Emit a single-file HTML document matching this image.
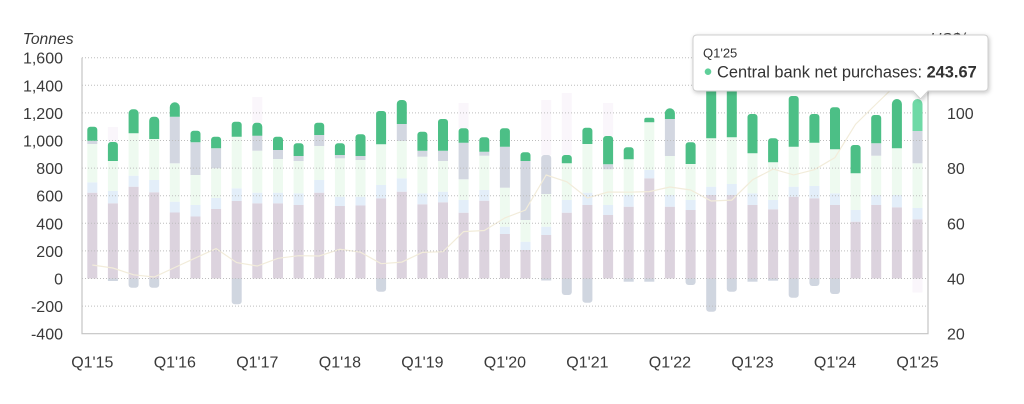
<!DOCTYPE html>
<html><head><meta charset="utf-8"><style>
html,body{margin:0;padding:0;background:#fff;}
svg{display:block;font-family:"Liberation Sans",Arial,sans-serif;}
.j{fill:#dcd3de}.t{fill:#e3eef9}.b{fill:#eefaf0}.e{fill:#d3d7e1}.c{fill:#4cbf86}.n{fill:#d0d6e0}.o{fill:#faf6fb}
.lab{font-size:16px;fill:#3a3a3a}
</style></head><body>
<svg width="1024" height="404" viewBox="0 0 1024 404" xmlns="http://www.w3.org/2000/svg">
<defs><filter id="sh" x="-10%" y="-20%" width="130%" height="160%"><feDropShadow dx="1" dy="1.5" stdDeviation="2" flood-color="#000" flood-opacity="0.22"/></filter></defs>
<rect width="1024" height="404" fill="#fff"/>
<!-- faint OTC -->
<rect class="o" x="107.9" y="127" width="10" height="15"/>
<rect class="o" x="252.3" y="97" width="10" height="25.7"/>
<rect class="o" x="458.6" y="103" width="10" height="25.3"/>
<rect class="o" x="541.2" y="100" width="10" height="55"/>
<rect class="o" x="561.8" y="93" width="10" height="62"/>
<rect class="o" x="603.1" y="103" width="10" height="33"/>
<!-- faded stacks -->
<g transform="translate(87.3,0)"><rect class="j" y="192.7" width="10" height="85.8"/><rect class="t" y="182.3" width="10" height="10.4"/><rect class="b" y="144" width="10" height="38.3"/><rect class="e" y="140.7" width="10" height="3.3"/></g>
<g transform="translate(107.9,0)"><rect class="j" y="203.3" width="10" height="75.2"/><rect class="t" y="191" width="10" height="12.3"/><rect class="b" y="161" width="10" height="30"/><rect class="n" y="278.5" width="10" height="2.5"/></g>
<g transform="translate(128.6,0)"><rect class="j" y="186.7" width="10" height="91.8"/><rect class="t" y="175.7" width="10" height="11"/><rect class="b" y="133.3" width="10" height="42.4"/><path class="n" d="M0 278.5V284.7a3 3 0 0 0 3 3h4a3 3 0 0 0 3-3V278.5z"/></g>
<g transform="translate(149.2,0)"><rect class="j" y="192.3" width="10" height="86.2"/><rect class="t" y="180" width="10" height="12.3"/><rect class="b" y="139" width="10" height="41"/><path class="n" d="M0 278.5V284.7a3 3 0 0 0 3 3h4a3 3 0 0 0 3-3V278.5z"/></g>
<g transform="translate(169.8,0)"><rect class="j" y="212.5" width="10" height="66"/><rect class="t" y="201.7" width="10" height="10.8"/><rect class="b" y="163.3" width="10" height="38.4"/><rect class="e" y="116.7" width="10" height="46.6"/></g>
<g transform="translate(190.5,0)"><rect class="j" y="216.5" width="10" height="62"/><rect class="t" y="205" width="10" height="11.5"/><rect class="b" y="175" width="10" height="30"/><rect class="e" y="142.3" width="10" height="32.7"/></g>
<g transform="translate(211.1,0)"><rect class="j" y="209" width="10" height="69.5"/><rect class="t" y="198" width="10" height="11"/><rect class="b" y="168.3" width="10" height="29.7"/><rect class="e" y="148.3" width="10" height="20"/></g>
<g transform="translate(231.7,0)"><rect class="j" y="201" width="10" height="77.5"/><rect class="t" y="188.3" width="10" height="12.7"/><rect class="b" y="136.7" width="10" height="51.6"/><path class="n" d="M0 278.5V301.3a3 3 0 0 0 3 3h4a3 3 0 0 0 3-3V278.5z"/></g>
<g transform="translate(252.3,0)"><rect class="j" y="203.3" width="10" height="75.2"/><rect class="t" y="192.7" width="10" height="10.6"/><rect class="b" y="150.7" width="10" height="42"/><rect class="e" y="135.7" width="10" height="15"/></g>
<g transform="translate(273,0)"><rect class="j" y="203.3" width="10" height="75.2"/><rect class="t" y="192.7" width="10" height="10.6"/><rect class="b" y="159" width="10" height="33.7"/><rect class="e" y="150" width="10" height="9"/></g>
<g transform="translate(293.6,0)"><rect class="j" y="205" width="10" height="73.5"/><rect class="t" y="193.3" width="10" height="11.7"/><rect class="b" y="161" width="10" height="32.3"/><rect class="e" y="156" width="10" height="5"/></g>
<g transform="translate(314.2,0)"><rect class="j" y="192.7" width="10" height="85.8"/><rect class="t" y="180" width="10" height="12.7"/><rect class="b" y="146" width="10" height="34"/><rect class="e" y="135" width="10" height="11"/></g>
<g transform="translate(334.9,0)"><rect class="j" y="206" width="10" height="72.5"/><rect class="t" y="196.7" width="10" height="9.3"/><rect class="b" y="158.3" width="10" height="38.4"/><rect class="e" y="155" width="10" height="3.3"/></g>
<g transform="translate(355.5,0)"><rect class="j" y="205.5" width="10" height="73"/><rect class="t" y="196.7" width="10" height="8.8"/><rect class="b" y="160" width="10" height="36.7"/><rect class="e" y="156" width="10" height="4"/></g>
<g transform="translate(376.1,0)"><rect class="j" y="198.3" width="10" height="80.2"/><rect class="t" y="185" width="10" height="13.3"/><rect class="b" y="144.3" width="10" height="40.7"/><path class="n" d="M0 278.5V288.7a3 3 0 0 0 3 3h4a3 3 0 0 0 3-3V278.5z"/></g>
<g transform="translate(396.8,0)"><rect class="j" y="191.7" width="10" height="86.8"/><rect class="t" y="178.3" width="10" height="13.4"/><rect class="b" y="141" width="10" height="37.3"/><rect class="e" y="124" width="10" height="17"/></g>
<g transform="translate(417.4,0)"><rect class="j" y="204.3" width="10" height="74.2"/><rect class="t" y="193.3" width="10" height="11"/><rect class="b" y="156.7" width="10" height="36.6"/><rect class="e" y="150.7" width="10" height="6"/></g>
<g transform="translate(438,0)"><rect class="j" y="202.3" width="10" height="76.2"/><rect class="t" y="191.7" width="10" height="10.6"/><rect class="b" y="161" width="10" height="30.7"/><rect class="e" y="150.7" width="10" height="10.3"/></g>
<g transform="translate(458.6,0)"><rect class="j" y="212.7" width="10" height="65.8"/><rect class="t" y="200" width="10" height="12.7"/><rect class="b" y="179.3" width="10" height="20.7"/><rect class="e" y="142.7" width="10" height="36.6"/></g>
<g transform="translate(479.3,0)"><rect class="j" y="200.7" width="10" height="77.8"/><rect class="t" y="190" width="10" height="10.7"/><rect class="b" y="155.7" width="10" height="34.3"/><rect class="e" y="151.7" width="10" height="4"/></g>
<g transform="translate(499.9,0)"><rect class="j" y="234" width="10" height="44.5"/><rect class="t" y="226.7" width="10" height="7.3"/><rect class="b" y="187.7" width="10" height="39"/><rect class="e" y="146.7" width="10" height="41"/></g>
<g transform="translate(520.5,0)"><rect class="j" y="250" width="10" height="28.5"/><rect class="t" y="241.7" width="10" height="8.3"/><rect class="b" y="220" width="10" height="21.7"/><rect class="e" y="161" width="10" height="59"/></g>
<g transform="translate(541.2,0)"><rect class="j" y="235" width="10" height="43.5"/><rect class="t" y="226.7" width="10" height="8.3"/><rect class="b" y="194" width="10" height="32.7"/><path class="e" d="M0 194V158a3 3 0 0 1 3-3h4a3 3 0 0 1 3 3V194z"/><rect class="n" y="278.5" width="10" height="2"/></g>
<g transform="translate(561.8,0)"><rect class="j" y="212.7" width="10" height="65.8"/><rect class="t" y="200" width="10" height="12.7"/><rect class="b" y="163.3" width="10" height="36.7"/><path class="n" d="M0 278.5V292a3 3 0 0 0 3 3h4a3 3 0 0 0 3-3V278.5z"/></g>
<g transform="translate(582.4,0)"><rect class="j" y="205" width="10" height="73.5"/><rect class="t" y="192.7" width="10" height="12.3"/><rect class="b" y="144" width="10" height="48.7"/><path class="n" d="M0 278.5V299.7a3 3 0 0 0 3 3h4a3 3 0 0 0 3-3V278.5z"/></g>
<g transform="translate(603.1,0)"><rect class="j" y="215" width="10" height="63.5"/><rect class="t" y="205" width="10" height="10"/><rect class="b" y="169.3" width="10" height="35.7"/><rect class="e" y="164.3" width="10" height="5"/></g>
<g transform="translate(623.7,0)"><rect class="j" y="206.7" width="10" height="71.8"/><rect class="t" y="195" width="10" height="11.7"/><rect class="b" y="159.3" width="10" height="35.7"/><rect class="n" y="278.5" width="10" height="3.2"/></g>
<g transform="translate(644.3,0)"><rect class="j" y="178.3" width="10" height="100.2"/><rect class="t" y="170" width="10" height="8.3"/><rect class="b" y="122.3" width="10" height="47.7"/><rect class="n" y="278.5" width="10" height="3.2"/></g>
<g transform="translate(664.9,0)"><rect class="j" y="206.7" width="10" height="71.8"/><rect class="t" y="195" width="10" height="11.7"/><rect class="b" y="156" width="10" height="39"/><rect class="e" y="119" width="10" height="37"/></g>
<g transform="translate(685.6,0)"><rect class="j" y="210" width="10" height="68.5"/><rect class="t" y="200" width="10" height="10"/><rect class="b" y="164" width="10" height="36"/><path class="n" d="M0 278.5V282a3 3 0 0 0 3 3h4a3 3 0 0 0 3-3V278.5z"/></g>
<g transform="translate(706.2,0)"><rect class="j" y="195" width="10" height="83.5"/><rect class="t" y="186.7" width="10" height="8.3"/><rect class="b" y="138.3" width="10" height="48.4"/><path class="n" d="M0 278.5V308.7a3 3 0 0 0 3 3h4a3 3 0 0 0 3-3V278.5z"/></g>
<g transform="translate(726.8,0)"><rect class="j" y="195" width="10" height="83.5"/><rect class="t" y="184" width="10" height="11"/><rect class="b" y="137.3" width="10" height="46.7"/><path class="n" d="M0 278.5V288.7a3 3 0 0 0 3 3h4a3 3 0 0 0 3-3V278.5z"/></g>
<g transform="translate(747.5,0)"><rect class="j" y="205" width="10" height="73.5"/><rect class="t" y="193.3" width="10" height="11.7"/><rect class="b" y="153.3" width="10" height="40"/><rect class="n" y="278.5" width="10" height="3.2"/></g>
<g transform="translate(768.1,0)"><rect class="j" y="209.3" width="10" height="69.2"/><rect class="t" y="200" width="10" height="9.3"/><rect class="b" y="162.3" width="10" height="37.7"/><rect class="n" y="278.5" width="10" height="2.2"/></g>
<g transform="translate(788.7,0)"><rect class="j" y="196.7" width="10" height="81.8"/><rect class="t" y="186.7" width="10" height="10"/><rect class="b" y="146.7" width="10" height="40"/><path class="n" d="M0 278.5V294.7a3 3 0 0 0 3 3h4a3 3 0 0 0 3-3V278.5z"/></g>
<g transform="translate(809.4,0)"><rect class="j" y="198.3" width="10" height="80.2"/><rect class="t" y="186" width="10" height="12.3"/><rect class="b" y="142.7" width="10" height="43.3"/><path class="n" d="M0 278.5V283a3 3 0 0 0 3 3h4a3 3 0 0 0 3-3V278.5z"/></g>
<g transform="translate(830,0)"><rect class="j" y="205" width="10" height="73.5"/><rect class="t" y="193.3" width="10" height="11.7"/><rect class="b" y="149.3" width="10" height="44"/><path class="n" d="M0 278.5V291a3 3 0 0 0 3 3h4a3 3 0 0 0 3-3V278.5z"/></g>
<g transform="translate(850.6,0)"><rect class="j" y="221.7" width="10" height="56.8"/><rect class="t" y="210" width="10" height="11.7"/><rect class="b" y="173.3" width="10" height="36.7"/></g>
<g transform="translate(871.2,0)"><rect class="j" y="205" width="10" height="73.5"/><rect class="t" y="195" width="10" height="10"/><rect class="b" y="155.7" width="10" height="39.3"/><rect class="e" y="143.3" width="10" height="12.4"/></g>
<g transform="translate(891.9,0)"><rect class="j" y="207.3" width="10" height="71.2"/><rect class="t" y="195" width="10" height="12.3"/><rect class="b" y="148.3" width="10" height="46.7"/></g>
<g transform="translate(912.5,0)"><rect class="j" y="219.3" width="10" height="59.2"/><rect class="t" y="208" width="10" height="11.3"/><rect class="b" y="163.3" width="10" height="44.7"/><rect class="e" y="131" width="10" height="32.3"/><rect class="o" y="278.5" width="10" height="14"/></g>
<!-- gold price line (faded) -->
<polyline fill="none" stroke="#f2ecda" stroke-width="1.2" points="92.3,265 112.9,268 133.6,274.8 154.2,277 174.8,267.5 195.5,257.9 216.1,248.6 236.7,262.6 257.3,266 278,258.3 298.6,255.7 319.2,256 339.9,249.3 360.5,252.2 381.1,263.7 401.8,262.1 422.4,252.4 443,251.7 463.6,231.6 484.3,230.5 504.9,217.9 525.5,210 546.2,175 566.8,181.8 587.4,198 608.1,192 628.7,192.2 649.3,191.6 669.9,187 690.6,190 711.2,201 731.8,200.1 752.5,179.8 773.1,169.1 793.7,174.9 814.4,169.7 835,157.5 855.6,124.2 876.2,104 896.9,84 917.5,60"/>
<!-- gridlines -->
<g stroke="#bdbdbd" stroke-width="1" stroke-dasharray="1 2">
<line x1="82" x2="928" y1="57.7" y2="57.7"/><line x1="82" x2="928" y1="85.3" y2="85.3"/><line x1="82" x2="928" y1="112.9" y2="112.9"/><line x1="82" x2="928" y1="140.5" y2="140.5"/><line x1="82" x2="928" y1="168.1" y2="168.1"/><line x1="82" x2="928" y1="195.7" y2="195.7"/><line x1="82" x2="928" y1="223.3" y2="223.3"/><line x1="82" x2="928" y1="250.9" y2="250.9"/><line x1="82" x2="928" y1="278.5" y2="278.5"/><line x1="82" x2="928" y1="306.1" y2="306.1"/>
</g>
<g stroke="#c4c4c4" stroke-width="1.2" fill="none"><path d="M82 57.7V333.7H928V57.7"/></g>
<!-- central bank bars -->
<g class="c">
<path transform="translate(87.3,0)" d="M0 140.7V129.7a3 3 0 0 1 3-3h4a3 3 0 0 1 3 3V140.7z"/>
<path transform="translate(107.9,0)" d="M0 161V145a3 3 0 0 1 3-3h4a3 3 0 0 1 3 3V161z"/>
<path transform="translate(128.6,0)" d="M0 133.3V113.3a4 4 0 0 1 4-4h2a4 4 0 0 1 4 4V133.3z"/>
<path transform="translate(149.2,0)" d="M0 139V120.7a4 4 0 0 1 4-4h2a4 4 0 0 1 4 4V139z"/>
<path transform="translate(169.8,0)" d="M0 116.7V107.3a5 5 0 0 1 10 0V116.7z"/>
<path transform="translate(190.5,0)" d="M0 142.3V133.7a3 3 0 0 1 3-3h4a3 3 0 0 1 3 3V142.3z"/>
<path transform="translate(211.1,0)" d="M0 148.3V139.7a3 3 0 0 1 3-3h4a3 3 0 0 1 3 3V148.3z"/>
<path transform="translate(231.7,0)" d="M0 136.7V124.7a3 3 0 0 1 3-3h4a3 3 0 0 1 3 3V136.7z"/>
<path transform="translate(252.3,0)" d="M0 135.7V126.7a4 4 0 0 1 4-4h2a4 4 0 0 1 4 4V135.7z"/>
<path transform="translate(273,0)" d="M0 150V139.7a3 3 0 0 1 3-3h4a3 3 0 0 1 3 3V150z"/>
<path transform="translate(293.6,0)" d="M0 156V146.3a3 3 0 0 1 3-3h4a3 3 0 0 1 3 3V156z"/>
<path transform="translate(314.2,0)" d="M0 135V125.7a3 3 0 0 1 3-3h4a3 3 0 0 1 3 3V135z"/>
<path transform="translate(334.9,0)" d="M0 155V146.3a3 3 0 0 1 3-3h4a3 3 0 0 1 3 3V155z"/>
<path transform="translate(355.5,0)" d="M0 156V137.3a3 3 0 0 1 3-3h4a3 3 0 0 1 3 3V156z"/>
<path transform="translate(376.1,0)" d="M0 144.3V114a3 3 0 0 1 3-3h4a3 3 0 0 1 3 3V144.3z"/>
<path transform="translate(396.8,0)" d="M0 124V104a4 4 0 0 1 4-4h2a4 4 0 0 1 4 4V124z"/>
<path transform="translate(417.4,0)" d="M0 150.7V134.7a3 3 0 0 1 3-3h4a3 3 0 0 1 3 3V150.7z"/>
<path transform="translate(438,0)" d="M0 150.7V122a3 3 0 0 1 3-3h4a3 3 0 0 1 3 3V150.7z"/>
<path transform="translate(458.6,0)" d="M0 142.7V131.3a3 3 0 0 1 3-3h4a3 3 0 0 1 3 3V142.7z"/>
<path transform="translate(479.3,0)" d="M0 151.7V140.3a3 3 0 0 1 3-3h4a3 3 0 0 1 3 3V151.7z"/>
<path transform="translate(499.9,0)" d="M0 146.7V131.3a3 3 0 0 1 3-3h4a3 3 0 0 1 3 3V146.7z"/>
<path transform="translate(520.5,0)" d="M0 161V155.3a3 3 0 0 1 3-3h4a3 3 0 0 1 3 3V161z"/>
<path transform="translate(561.8,0)" d="M0 163.3V158a3 3 0 0 1 3-3h4a3 3 0 0 1 3 3V163.3z"/>
<path transform="translate(582.4,0)" d="M0 144V130.7a3 3 0 0 1 3-3h4a3 3 0 0 1 3 3V144z"/>
<path transform="translate(603.1,0)" d="M0 164.3V139a3 3 0 0 1 3-3h4a3 3 0 0 1 3 3V164.3z"/>
<path transform="translate(623.7,0)" d="M0 159.3V150.3a3 3 0 0 1 3-3h4a3 3 0 0 1 3 3V159.3z"/>
<path transform="translate(644.3,0)" d="M0 122.3V119.7a2 2 0 0 1 2-2h6a2 2 0 0 1 2 2V122.3z"/>
<path transform="translate(664.9,0)" d="M0 119V113.3a5 5 0 0 1 10 0V119z"/>
<path transform="translate(685.6,0)" d="M0 164V145.3a3 3 0 0 1 3-3h4a3 3 0 0 1 3 3V164z"/>
<path transform="translate(706.2,0)" d="M0 138.3V78a3 3 0 0 1 3-3h4a3 3 0 0 1 3 3V138.3z"/>
<path transform="translate(726.8,0)" d="M0 137.3V87a3 3 0 0 1 3-3h4a3 3 0 0 1 3 3V137.3z"/>
<path transform="translate(747.5,0)" d="M0 153.3V117a3 3 0 0 1 3-3h4a3 3 0 0 1 3 3V153.3z"/>
<path transform="translate(768.1,0)" d="M0 162.3V141.3a3 3 0 0 1 3-3h4a3 3 0 0 1 3 3V162.3z"/>
<path transform="translate(788.7,0)" d="M0 146.7V99a3 3 0 0 1 3-3h4a3 3 0 0 1 3 3V146.7z"/>
<path transform="translate(809.4,0)" d="M0 142.7V117a3 3 0 0 1 3-3h4a3 3 0 0 1 3 3V142.7z"/>
<path transform="translate(830,0)" d="M0 149.3V110.3a3 3 0 0 1 3-3h4a3 3 0 0 1 3 3V149.3z"/>
<path transform="translate(850.6,0)" d="M0 173.3V148a3 3 0 0 1 3-3h4a3 3 0 0 1 3 3V173.3z"/>
<path transform="translate(871.2,0)" d="M0 143.3V118a3 3 0 0 1 3-3h4a3 3 0 0 1 3 3V143.3z"/>
<path transform="translate(891.9,0)" d="M0 148.3V104a5 5 0 0 1 10 0V148.3z"/>
</g>
<path transform="translate(912.5,0)" fill="#6fd9a6" d="M0 131V104a5 5 0 0 1 10 0V131z"/>
<!-- left axis labels -->
<g class="lab" text-anchor="end">
<text x="63" y="63.7">1,600</text><text x="63" y="91.3">1,400</text><text x="63" y="118.9">1,200</text><text x="63" y="146.5">1,000</text><text x="63" y="174.1">800</text><text x="63" y="201.7">600</text><text x="63" y="229.3">400</text><text x="63" y="256.9">200</text><text x="63" y="284.5">0</text><text x="63" y="312.1">-200</text><text x="63" y="339.7">-400</text>
</g>
<text x="22.7" y="44" font-size="15.7" font-style="italic" fill="#3a3a3a">Tonnes</text>
<!-- right axis labels -->
<g class="lab">
<text x="947" y="63.7">120</text><text x="947" y="118.9">100</text><text x="947" y="174.1">80</text><text x="947" y="229.3">60</text><text x="947" y="284.5">40</text><text x="947" y="339.7">20</text>
</g>
<text x="930" y="44" font-size="15.7" font-style="italic" fill="#3a3a3a">US$/oz</text>
<!-- x labels -->
<g class="lab" text-anchor="middle">
<text x="92.3" y="367.5">Q1'15</text><text x="174.8" y="367.5">Q1'16</text><text x="257.3" y="367.5">Q1'17</text><text x="339.9" y="367.5">Q1'18</text><text x="422.4" y="367.5">Q1'19</text><text x="504.9" y="367.5">Q1'20</text><text x="587.4" y="367.5">Q1'21</text><text x="669.9" y="367.5">Q1'22</text><text x="752.5" y="367.5">Q1'23</text><text x="835" y="367.5">Q1'24</text><text x="917.5" y="367.5">Q1'25</text>
</g>
<!-- tooltip -->
<path filter="url(#sh)" fill="#fff" stroke="#cfcfcf" stroke-width="1" d="M697 35H984Q988 35 988 39V87Q988 91 984 91H928L920.5 99L913 91H697Q693 91 693 87V39Q693 35 697 35Z"/>
<text x="703" y="57.3" font-size="13" fill="#333">Q1'25</text>
<circle cx="708" cy="71.7" r="3.3" fill="#5fcf99"/>
<text x="717" y="77.3" font-size="16.4" fill="#333">Central bank net purchases: <tspan font-weight="bold">243.67</tspan></text>
</svg>
</body></html>
